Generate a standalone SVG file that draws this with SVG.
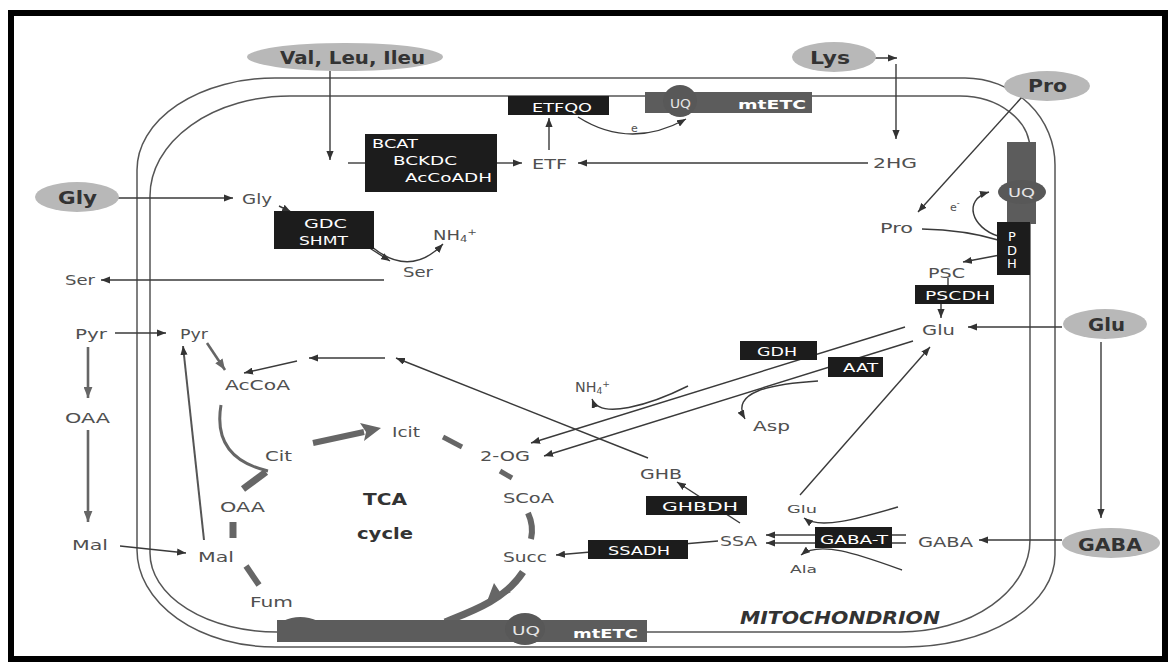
<svg xmlns="http://www.w3.org/2000/svg" width="1171" height="663" viewBox="0 0 1171 663">
<defs>
<style>
.t{font-family:"DejaVu Sans",sans-serif;font-size:14px;fill:#505050}
.s{font-size:11px}
.b{font-weight:bold;fill:#333;font-size:18px}
.w{fill:#fff;font-size:13px}
.ell{fill:#b8b8b8}
.box{fill:#1c1c1c}
.bar{fill:#5c5c5c}
.mem{fill:none;stroke:#555;stroke-width:1.5}
.c{fill:none;stroke:#3a3a3a;stroke-width:1.4}
.cg{fill:none;stroke:#666;stroke-width:2.6}
.tk{fill:none;stroke:#666;stroke-linecap:butt}
</style>
<marker id="a" viewBox="0 0 10 8" refX="10" refY="4" markerWidth="9" markerHeight="7.2" markerUnits="userSpaceOnUse" orient="auto"><path d="M0,0 L10,4 L0,8 z" fill="#333"/></marker>
<marker id="ag" viewBox="0 0 10 8" refX="10" refY="4" markerWidth="11" markerHeight="9" markerUnits="userSpaceOnUse" orient="auto"><path d="M0,0 L10,4 L0,8 z" fill="#666"/></marker>
</defs>
<rect x="0" y="0" width="1171" height="663" fill="#fff"/>
<rect x="11" y="13" width="1154" height="646" fill="none" stroke="#000" stroke-width="6"/>

<g id="membranes">
<path class="mem" d="M275,78 L965,78 A90,87 0 0 1 1055,165 L1055,555 A150,92 0 0 1 905,647 L275,647 A138,97 0 0 1 137,550 L137,170 A138,92 0 0 1 275,78 Z"/>
<path class="mem" d="M290,96 L960,96 A70,54 0 0 1 1030,150 L1030,540 A130,92 0 0 1 900,632 L277,632 A127,79 0 0 1 150,553 L150,196 A140,100 0 0 1 290,96 Z"/>
</g>

<g id="connectors">
<line class="c" x1="330" y1="71" x2="330" y2="160" marker-end="url(#a)"/>
<line class="c" x1="348" y1="163" x2="365" y2="163"/>
<line class="c" x1="497" y1="163" x2="522" y2="163" marker-end="url(#a)"/>
<line class="c" x1="868" y1="163" x2="578" y2="163" marker-end="url(#a)"/>
<line class="c" x1="549" y1="150" x2="549" y2="118" marker-end="url(#a)"/>
<path class="c" d="M578,117 Q630,150 686,119" marker-end="url(#a)"/>
<line class="c" x1="853" y1="58" x2="897" y2="58" marker-end="url(#a)"/>
<line class="c" x1="896" y1="64" x2="896" y2="139" marker-end="url(#a)"/>
<line class="c" x1="1022" y1="97" x2="918" y2="212" marker-end="url(#a)"/>
<line class="c" x1="106" y1="198" x2="233" y2="198" marker-end="url(#a)"/>
<line class="c" x1="279" y1="206" x2="291" y2="212" marker-end="url(#a)"/>
<line class="c" x1="368" y1="247" x2="390" y2="261" marker-end="url(#a)"/>
<path class="c" d="M372,247 Q410,278 443,244" marker-end="url(#a)"/>
<line class="c" x1="384" y1="280" x2="101" y2="280" marker-end="url(#a)"/>
<line class="c" x1="115" y1="333" x2="166" y2="333" marker-end="url(#a)"/>
<line class="cg" x1="88" y1="347" x2="88" y2="398" marker-end="url(#ag)"/>
<line class="cg" x1="88" y1="430" x2="88" y2="522" marker-end="url(#ag)"/>
<line class="c" x1="120" y1="546" x2="186" y2="553" marker-end="url(#a)"/>
<line class="c" x1="204" y1="540" x2="183" y2="346" marker-end="url(#a)" style="stroke:#555;stroke-width:2"/>
<line class="cg" x1="207" y1="343" x2="225" y2="370" marker-end="url(#ag)"/>
<line class="c" x1="648" y1="458" x2="396" y2="358" marker-end="url(#a)"/>
<line class="c" x1="385" y1="358" x2="309" y2="358" marker-end="url(#a)"/>
<line class="c" x1="297" y1="361" x2="244" y2="373" marker-end="url(#a)"/>
<line class="c" x1="905" y1="327" x2="531" y2="443" marker-end="url(#a)"/>
<line class="c" x1="913" y1="341" x2="544" y2="456" marker-end="url(#a)"/>
<path class="c" d="M688,386 C650,405 600,420 592,399" marker-end="url(#a)"/>
<path class="c" d="M818,381 C770,384 730,392 745,419" marker-end="url(#a)"/>
<line class="c" x1="800" y1="495" x2="930" y2="347" marker-end="url(#a)"/>
<line class="c" x1="740" y1="523" x2="677" y2="482" marker-end="url(#a)"/>
<line class="c" x1="718" y1="541" x2="556" y2="555" marker-end="url(#a)"/>
<line class="c" x1="906" y1="535" x2="766" y2="535" marker-end="url(#a)"/>
<line class="c" x1="906" y1="543" x2="766" y2="543" marker-end="url(#a)"/>
<path class="c" d="M898,507 C860,518 820,530 804,518" marker-end="url(#a)"/>
<path class="c" d="M902,570 C860,555 820,540 801,555" marker-end="url(#a)"/>
<line class="c" x1="1062" y1="540" x2="979" y2="540" marker-end="url(#a)"/>
<line class="c" x1="1062" y1="327" x2="968" y2="327" marker-end="url(#a)"/>
<line class="c" x1="1101" y1="342" x2="1101" y2="518" marker-end="url(#a)"/>
<line class="c" x1="941" y1="304" x2="941" y2="318" marker-end="url(#a)"/>
<line class="c" x1="948" y1="278" x2="948" y2="285"/>
<line class="c" x1="1000" y1="255" x2="963" y2="262" marker-end="url(#a)"/>
<path class="c" d="M922,229 Q965,230 998,240"/>
<path class="c" d="M998,236 C972,228 962,200 989,192" marker-end="url(#a)"/>
</g>

<g id="tca-arrows">
<line class="tk" x1="313" y1="443" x2="364" y2="432" stroke-width="6"/>
<polygon points="381,428 360,423 366,432 364,441" fill="#666"/>
<line class="tk" x1="443" y1="437" x2="462" y2="447" stroke-width="5"/>
<line class="tk" x1="500" y1="471" x2="512" y2="478" stroke-width="5"/>
<path class="tk" d="M528,513 Q534,526 531,539" stroke-width="6"/>
<line class="tk" x1="233" y1="522" x2="233" y2="538" stroke-width="7"/>
<line class="tk" x1="246" y1="566" x2="259" y2="585" stroke-width="6"/>
<path class="tk" d="M221,405 Q212,458 268,471" stroke-width="3"/>
<line class="tk" x1="243" y1="489" x2="266" y2="472" stroke-width="7"/>
<path class="tk" d="M523,572 C505,600 470,612 445,622" stroke-width="7"/>
<polygon points="486,604 494,583 500,592 511,592" fill="#666"/>
</g>

<g id="etc-top">
<rect class="box" x="508" y="96" width="101" height="19"/>
<text class="t w" x="532" y="112" textLength="60" lengthAdjust="spacingAndGlyphs">ETFQO</text>
<rect class="bar" x="645" y="92" width="167" height="21"/>
<ellipse cx="680" cy="101" rx="17" ry="16" fill="#585858"/>
<text class="t w" x="670" y="108" textLength="21" lengthAdjust="spacingAndGlyphs" style="fill:#e6e6e6">UQ</text>
<text class="t w" x="738" y="109" textLength="68" lengthAdjust="spacingAndGlyphs" style="font-weight:bold">mtETC</text>
<text class="t s" x="631" y="132">e</text>
</g>

<g id="etc-right">
<rect class="bar" x="1007" y="142" width="29" height="82"/>
<ellipse cx="1022" cy="192" rx="24" ry="12" fill="#585858"/>
<text class="t w" x="1008" y="197" textLength="27" lengthAdjust="spacingAndGlyphs" style="fill:#e6e6e6">UQ</text>
<rect class="box" x="997" y="222" width="33" height="53"/>
<text class="t w" x="1012" y="241" text-anchor="middle">P</text>
<text class="t w" x="1012" y="255" text-anchor="middle">D</text>
<text class="t w" x="1012" y="268" text-anchor="middle">H</text>
<text class="t s" x="950" y="211">e<tspan dy="-5" font-size="8">-</tspan></text>
</g>

<g id="etc-bottom">
<rect class="bar" x="277" y="620" width="370" height="22"/>
<path d="M283,621 Q300,613 318,621 Z" fill="#5c5c5c"/>
<ellipse cx="525" cy="629" rx="20" ry="16" fill="#585858"/>
<text class="t w" x="512" y="635" textLength="28" lengthAdjust="spacingAndGlyphs" style="fill:#e6e6e6">UQ</text>
<text class="t w" x="573" y="638" textLength="65" lengthAdjust="spacingAndGlyphs" style="font-weight:bold">mtETC</text>
</g>

<g id="n-valleuileu"><ellipse class="ell" cx="345" cy="57" rx="98" ry="14"/><text class="t b" x="280" y="64" textLength="145" lengthAdjust="spacingAndGlyphs">Val, Leu, Ileu</text></g>
<g id="n-gly-out"><ellipse class="ell" cx="77" cy="197" rx="42" ry="15"/><text class="t b" x="58" y="204" textLength="39" lengthAdjust="spacingAndGlyphs">Gly</text></g>
<g id="n-lys"><ellipse class="ell" cx="834" cy="57" rx="42" ry="15"/><text class="t b" x="810" y="64" textLength="40" lengthAdjust="spacingAndGlyphs">Lys</text></g>
<g id="n-pro-out"><ellipse class="ell" cx="1047" cy="86" rx="43" ry="15"/><text class="t b" x="1028" y="92" textLength="39" lengthAdjust="spacingAndGlyphs">Pro</text></g>
<g id="n-glu-out"><ellipse class="ell" cx="1105" cy="324" rx="42" ry="15"/><text class="t b" x="1088" y="331" textLength="37" lengthAdjust="spacingAndGlyphs">Glu</text></g>
<g id="n-gaba-out"><ellipse class="ell" cx="1111" cy="543" rx="49" ry="15"/><text class="t b" x="1078" y="551" textLength="64" lengthAdjust="spacingAndGlyphs">GABA</text></g>

<g id="n-bcat"><rect class="box" x="365" y="134" width="132" height="58"/>
<text class="t w" x="372" y="148" textLength="46" lengthAdjust="spacingAndGlyphs">BCAT</text>
<text class="t w" x="393" y="165" textLength="64" lengthAdjust="spacingAndGlyphs">BCKDC</text>
<text class="t w" x="405" y="182" textLength="87" lengthAdjust="spacingAndGlyphs">AcCoADH</text></g>
<g id="n-etf"><text class="t" x="532" y="169" textLength="35" lengthAdjust="spacingAndGlyphs">ETF</text></g>
<g id="n-2hg"><text class="t" x="873" y="168" textLength="44" lengthAdjust="spacingAndGlyphs">2HG</text></g>
<g id="n-gly-in"><text class="t" x="242" y="204" textLength="30" lengthAdjust="spacingAndGlyphs">Gly</text></g>
<g id="n-gdc"><rect class="box" x="274" y="211" width="100" height="38"/>
<text class="t w" x="304" y="228" textLength="43" lengthAdjust="spacingAndGlyphs">GDC</text>
<text class="t w" x="299" y="245" textLength="49" lengthAdjust="spacingAndGlyphs">SHMT</text></g>
<g id="n-nh4a"><text class="t" x="433" y="240" textLength="44" lengthAdjust="spacingAndGlyphs">NH<tspan font-size="9" dy="2">4</tspan><tspan font-size="9" dy="-7">+</tspan></text></g>
<g id="n-ser-in"><text class="t" x="403" y="277" textLength="30" lengthAdjust="spacingAndGlyphs">Ser</text></g>
<g id="n-ser-out"><text class="t" x="65" y="285" textLength="30" lengthAdjust="spacingAndGlyphs">Ser</text></g>
<g id="n-pyr-out"><text class="t" x="75" y="339" textLength="32" lengthAdjust="spacingAndGlyphs">Pyr</text></g>
<g id="n-pyr-in"><text class="t" x="180" y="339" textLength="28" lengthAdjust="spacingAndGlyphs">Pyr</text></g>
<g id="n-accoa"><text class="t" x="225" y="390" textLength="65" lengthAdjust="spacingAndGlyphs">AcCoA</text></g>
<g id="n-oaa-out"><text class="t" x="65" y="423" textLength="45" lengthAdjust="spacingAndGlyphs">OAA</text></g>
<g id="n-mal-out"><text class="t" x="72" y="550" textLength="36" lengthAdjust="spacingAndGlyphs">Mal</text></g>
<g id="n-mal-in"><text class="t" x="198" y="562" textLength="36" lengthAdjust="spacingAndGlyphs">Mal</text></g>
<g id="n-cit"><text class="t" x="265" y="461" textLength="27" lengthAdjust="spacingAndGlyphs">Cit</text></g>
<g id="n-oaa-in"><text class="t" x="220" y="512" textLength="45" lengthAdjust="spacingAndGlyphs">OAA</text></g>
<g id="n-fum"><text class="t" x="250" y="607" textLength="43" lengthAdjust="spacingAndGlyphs">Fum</text></g>
<g id="n-icit"><text class="t" x="392" y="437" textLength="28" lengthAdjust="spacingAndGlyphs">Icit</text></g>
<g id="n-2og"><text class="t" x="480" y="461" textLength="50" lengthAdjust="spacingAndGlyphs">2-OG</text></g>
<g id="n-scoa"><text class="t" x="503" y="503" textLength="51" lengthAdjust="spacingAndGlyphs">SCoA</text></g>
<g id="n-succ"><text class="t" x="503" y="562" textLength="44" lengthAdjust="spacingAndGlyphs">Succ</text></g>
<g id="n-tca"><text class="t" x="363" y="505" textLength="44" lengthAdjust="spacingAndGlyphs" style="font-weight:bold;fill:#333;font-size:15px">TCA</text>
<text class="t" x="357" y="539" textLength="56" lengthAdjust="spacingAndGlyphs" style="font-weight:bold;fill:#333;font-size:15px">cycle</text></g>
<g id="n-nh4b"><text class="t" x="575" y="392" textLength="35" lengthAdjust="spacingAndGlyphs">NH<tspan font-size="9" dy="2">4</tspan><tspan font-size="9" dy="-7">+</tspan></text></g>
<g id="n-asp"><text class="t" x="753" y="431" textLength="37" lengthAdjust="spacingAndGlyphs">Asp</text></g>
<g id="n-gdh"><rect class="box" x="740" y="341" width="77" height="19"/><text class="t w" x="757" y="356" textLength="40" lengthAdjust="spacingAndGlyphs">GDH</text></g>
<g id="n-aat"><rect class="box" x="828" y="357" width="55" height="20"/><text class="t w" x="843" y="372" textLength="35" lengthAdjust="spacingAndGlyphs">AAT</text></g>
<g id="n-ghb"><text class="t" x="640" y="479" textLength="42" lengthAdjust="spacingAndGlyphs">GHB</text></g>
<g id="n-ghbdh"><rect class="box" x="646" y="496" width="101" height="19"/><text class="t w" x="662" y="511" textLength="76" lengthAdjust="spacingAndGlyphs">GHBDH</text></g>
<g id="n-ssadh"><rect class="box" x="588" y="540" width="100" height="19"/><text class="t w" x="608" y="555" textLength="62" lengthAdjust="spacingAndGlyphs">SSADH</text></g>
<g id="n-ssa"><text class="t" x="720" y="546" textLength="37" lengthAdjust="spacingAndGlyphs">SSA</text></g>
<g id="n-gabat"><rect class="box" x="815" y="527" width="77" height="21"/><text class="t w" x="820" y="544" textLength="68" lengthAdjust="spacingAndGlyphs">GABA-T</text></g>
<g id="n-glu-small"><text class="t s" x="787" y="513" textLength="30" lengthAdjust="spacingAndGlyphs">Glu</text></g>
<g id="n-ala"><text class="t s" x="790" y="573" textLength="27" lengthAdjust="spacingAndGlyphs">Ala</text></g>
<g id="n-gaba-in"><text class="t" x="918" y="547" textLength="55" lengthAdjust="spacingAndGlyphs">GABA</text></g>
<g id="n-glu-in"><text class="t" x="922" y="335" textLength="33" lengthAdjust="spacingAndGlyphs">Glu</text></g>
<g id="n-psc"><text class="t" x="928" y="278" textLength="37" lengthAdjust="spacingAndGlyphs">PSC</text></g>
<g id="n-pscdh"><rect class="box" x="915" y="285" width="79" height="19"/><text class="t w" x="925" y="300" textLength="65" lengthAdjust="spacingAndGlyphs">PSCDH</text></g>
<g id="n-pro-in"><text class="t" x="880" y="233" textLength="33" lengthAdjust="spacingAndGlyphs">Pro</text></g>
<g id="label-mito"><text class="t" x="740" y="624" textLength="200" lengthAdjust="spacingAndGlyphs" style="font-weight:bold;font-style:italic;fill:#333;font-size:17px">MITOCHONDRION</text></g>
</svg>
